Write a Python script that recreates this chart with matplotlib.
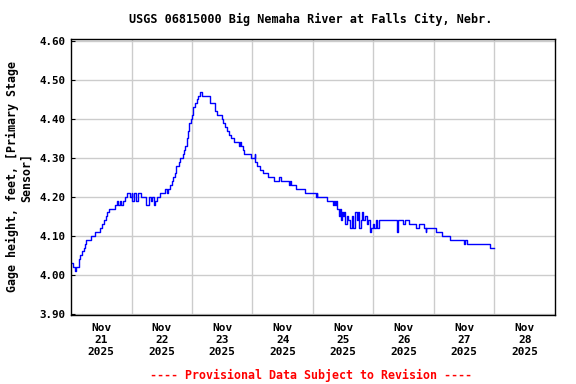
import matplotlib
matplotlib.use("Agg")
import matplotlib.pyplot as plt

# hours since 2025-11-21 00:00, gage height in feet
hours = [0.0, 0.66, 1.45, 1.72, 2.0, 3.17, 3.57, 4.36, 5.16, 5.69, 6.08, 7.8, 9.4,
         11.4, 12.3, 13.1, 14.0, 14.4, 15.2, 17.3, 18.3, 18.8, 19.3, 20.0, 20.6,
         21.6, 22.4, 23.3, 24.0, 24.3, 25.0, 25.7, 26.6, 27.6, 29.9, 30.8, 31.6,
         32.1, 32.9, 33.5, 34.2, 35.2, 37.4, 37.9, 38.6, 39.3, 40.0, 40.6, 41.2,
         41.7, 42.7, 43.2, 44.3, 45.0, 45.4, 45.9, 46.3, 46.9, 47.6, 48.0, 48.5,
         49.2, 49.8, 50.5, 51.2, 52.1, 55.0, 57.3, 57.8, 60.0, 60.4, 61.1, 61.8,
         62.5, 63.3, 64.7, 66.5, 67.0, 67.5, 68.1, 68.6, 71.3, 72.8, 73.0, 73.9,
         75.0, 76.3, 78.3, 80.5, 82.6, 83.3, 86.6, 86.9, 87.3, 89.3, 92.8, 97.2,
         97.5, 97.7, 101.7, 104.1, 104.4, 104.8, 105.1, 105.7, 106.3, 106.7,
         107.1, 107.4, 107.8, 108.3, 108.7, 109.4, 110.0, 110.7, 111.3, 112.0,
         112.7, 113.3, 114.0, 114.4, 114.9, 115.6, 116.0, 116.6, 117.3, 118.0,
         118.6, 119.1, 119.7, 120.2, 121.0, 121.5, 122.1, 129.5, 129.9, 131.8,
         132.5, 134.2, 136.8, 138.2, 140.0, 140.8, 141.0, 144.8, 147.0, 150.4,
         155.9, 156.3, 157.2, 166.2, 167.8]
stage = [4.03, 4.02, 4.02, 4.01, 4.02, 4.04, 4.05, 4.06, 4.07, 4.08, 4.09, 4.10, 4.11,
         4.12, 4.13, 4.14, 4.15, 4.16, 4.17, 4.18, 4.19, 4.18, 4.19, 4.18, 4.19,
         4.20, 4.21, 4.20, 4.21, 4.19, 4.21, 4.19, 4.21, 4.20, 4.18, 4.20, 4.19,
         4.20, 4.18, 4.19, 4.20, 4.21, 4.22, 4.21, 4.22, 4.23, 4.24, 4.25, 4.26,
         4.28, 4.29, 4.30, 4.31, 4.32, 4.33, 4.35, 4.37, 4.39, 4.40, 4.41, 4.43,
         4.44, 4.45, 4.46, 4.47, 4.46, 4.44, 4.42, 4.41, 4.40, 4.39, 4.38, 4.37,
         4.36, 4.35, 4.34, 4.33, 4.34, 4.33, 4.32, 4.31, 4.30, 4.31, 4.29, 4.28,
         4.27, 4.26, 4.25, 4.24, 4.25, 4.24, 4.23, 4.24, 4.23, 4.22, 4.21, 4.20,
         4.21, 4.20, 4.19, 4.18, 4.19, 4.18, 4.19, 4.17, 4.15, 4.17,
         4.14, 4.16, 4.15, 4.16, 4.13, 4.15, 4.14, 4.12, 4.15, 4.12,
         4.16, 4.14, 4.16, 4.12, 4.14, 4.16, 4.14, 4.15, 4.13, 4.14,
         4.11, 4.12, 4.13, 4.12, 4.14, 4.12, 4.14, 4.11, 4.14, 4.13,
         4.14, 4.13, 4.12, 4.13, 4.12, 4.11, 4.12, 4.11, 4.10, 4.09,
         4.08, 4.09, 4.08, 4.07, 4.07]

day_labels = ["Nov\n21\n2025", "Nov\n22\n2025", "Nov\n23\n2025", "Nov\n24\n2025",
              "Nov\n25\n2025", "Nov\n26\n2025", "Nov\n27\n2025", "Nov\n28\n2025"]
y_ticks = [3.90, 4.00, 4.10, 4.20, 4.30, 4.40, 4.50, 4.60]

plt.rcParams['font.family'] = 'DejaVu Sans Mono'
plt.rcParams['font.weight'] = 'bold'

fig = plt.figure(figsize=(5.76, 3.84), dpi=100)
ax = fig.add_axes([71 / 576, 1 - 315 / 384, 484 / 576, 276 / 384])

ax.plot(hours, stage, drawstyle='steps-post', color='#0000ff', lw=1)

ax.set_xlim(0, 192)
ax.set_ylim(3.897, 4.605)

ax.set_yticks(y_ticks)
ax.set_yticklabels([f"{v:.2f}" for v in y_ticks], fontsize=7.8, fontweight='bold')
ax.set_xticks([12 + 24 * i for i in range(8)])
ax.set_xticklabels(day_labels, fontsize=8, fontweight='bold', linespacing=1.25)
ax.set_xticks([24 * i for i in range(1, 8)], minor=True)
ax.tick_params(axis='x', which='both', length=0, pad=6)
ax.tick_params(axis='y', direction='in', length=3, pad=4)

ax.grid(True, which='minor', axis='x', color='#cccccc', lw=1)
ax.grid(True, which='major', axis='y', color='#cccccc', lw=1)
ax.set_axisbelow(True)
for s in ax.spines.values():
    s.set_linewidth(1)

ax.set_ylabel("Gage height, feet, [Primary Stage\nSensor]", fontsize=8.4,
              fontweight='bold', linespacing=1.0, labelpad=5)

fig.text(311 / 576, 1 - 19 / 384, "USGS 06815000 Big Nemaha River at Falls City, Nebr.",
         ha='center', va='center', fontsize=8.45, fontweight='bold')
fig.text(311 / 576, 1 - 375 / 384, "---- Provisional Data Subject to Revision ----",
         ha='center', va='center', fontsize=8.4, fontweight='bold', color='red')

fig.savefig("out.png", dpi=100)
